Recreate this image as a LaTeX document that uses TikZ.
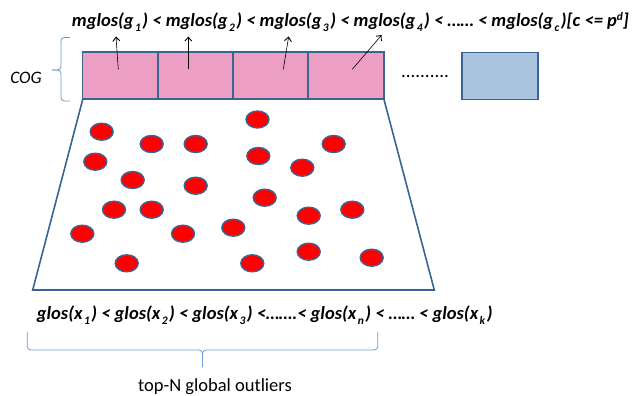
\documentclass[tikz,border=0pt]{standalone}
\usepackage{fontspec}
\setmainfont{Carlito}
\usetikzlibrary{arrows.meta}
\definecolor{pinkfill}{HTML}{EC9EC4}
\definecolor{bluefill}{HTML}{ABC4E0}
\definecolor{edgeblue}{HTML}{3B6494}
\definecolor{bracecol}{HTML}{6F9AD0}
\newcommand\sbx[1]{\kern1.5pt\raisebox{-5pt}{\fontsize{11.5}{11.5}\selectfont #1}\kern1.5pt}
\newcommand\spx[1]{\raisebox{6pt}{\fontsize{11.5}{11.5}\selectfont #1}}
\tikzset{
  cell/.style={draw=edgeblue, line width=1.6pt, fill=pinkfill, minimum width=75.5pt, minimum height=47pt, inner sep=0pt, outer sep=0pt},
  lastcell/.style={cell, fill=bluefill},
  dot/.style={ellipse, draw=edgeblue, line width=1.4pt, fill=red, minimum width=23pt, minimum height=17pt, inner sep=0pt},
  formula/.style={inner sep=0pt, anchor=base west, font=\fontsize{18.5}{20}\selectfont\bfseries\itshape},
  ptr/.style={black, line width=0.6pt, -{Straight Barb[length=4pt,width=7pt,line width=0.9pt]}},
  bracestyle/.style={draw=bracecol, line width=0.8pt, rounded corners=3.5pt},
}
\usetikzlibrary{shapes.geometric}
\begin{document}
\begin{tikzpicture}[x=1pt,y=-1pt]
\useasboundingbox (0,0) rectangle (632,396);
% formula on top
\node[formula] (top) at (71.7,26.7) {mglos(g\sbx{1}) < mglos(g\sbx{2}) < mglos(g\sbx{3}) < mglos(g\sbx{4}) < \dots\dots{} < mglos(g\sbx{c})[c <= p\spx{d}]};
% cells
\node[cell] (c1) at (120.2,75.5) {};
\node[cell] (c2) at (195.5,75.5) {};
\node[cell] (c3) at (270.9,75.5) {};
\node[cell] (c4) at (346.0,75.5) {};
\node[lastcell] (c5) at (500.0,76.0) {};
\node[inner sep=0pt, font=\fontsize{19}{19}\selectfont] (dots) at (425,76) {..........};
% trapezoid
\draw[edgeblue, line width=1.6pt, line join=miter] (82.7,99.5) -- (32.7,290) -- (434.3,290) -- (384,99.5);
% pointers
\coordinate (s1) at (118.3,69.3); \coordinate (e1) at (116,36.5);
\coordinate (s2) at (188.3,69.3); \coordinate (e2) at (188.3,36.5);
\coordinate (s3) at (283.3,69.3); \coordinate (e3) at (288.7,36.5);
\coordinate (s4) at (352.3,69.3); \coordinate (e4) at (381.7,35);
\draw[ptr] (s1) -- (e1);
\draw[ptr] (s2) -- (e2);
\draw[ptr] (s3) -- (e3);
\draw[ptr] (s4) -- (e4);
% COG brace
\draw[bracestyle] (70,37.5) -- (61,37.5) -- (61,70) -- (52,70);
\draw[bracestyle] (52,70) -- (61,70) -- (61,101) -- (70,101);
\node[inner sep=0pt, font=\fontsize{17.5}{17.5}\selectfont\itshape] (cog) at (26,78) {COG};
% red points
\foreach \n/\x/\y in {1/101.7/131.7, 2/151.7/144, 3/195.7/144, 4/257.5/119.5, 5/95.3/161.7, 6/258.3/156, 7/333.7/144, 8/132.7/180, 9/195.7/185.7, 10/302.3/167.7, 11/264.7/197.7, 12/114/209.7, 13/151.7/209.7, 14/308.7/215.7, 15/352.3/209.7, 16/82.3/233.7, 17/183/233.7, 18/233.3/227.7, 19/308.7/251.7, 20/126.7/263.3, 21/252.3/263.3, 22/371.7/257.7}
  \node[dot] (p\n) at (\x,\y) {};
% bottom formula
\node[formula] (bottom) at (36.7,319.3) {glos(x\sbx{1}) < glos(x\sbx{2}) < glos(x\sbx{3}) <\dots\dots.< glos(x\sbx{n}) < \dots\dots{} < glos(x\sbx{k})};
% bottom brace
\draw[bracestyle] (27.3,331.7) -- (27.3,350) -- (202.5,350) -- (202.5,367);
\draw[bracestyle] (202.5,367) -- (202.5,350) -- (377.7,350) -- (377.7,331.7);
\node[inner sep=0pt, anchor=base, font=\fontsize{18.5}{18.5}\selectfont] (lbl) at (215,391.7) {top-N global outliers};
\end{tikzpicture}
\end{document}
